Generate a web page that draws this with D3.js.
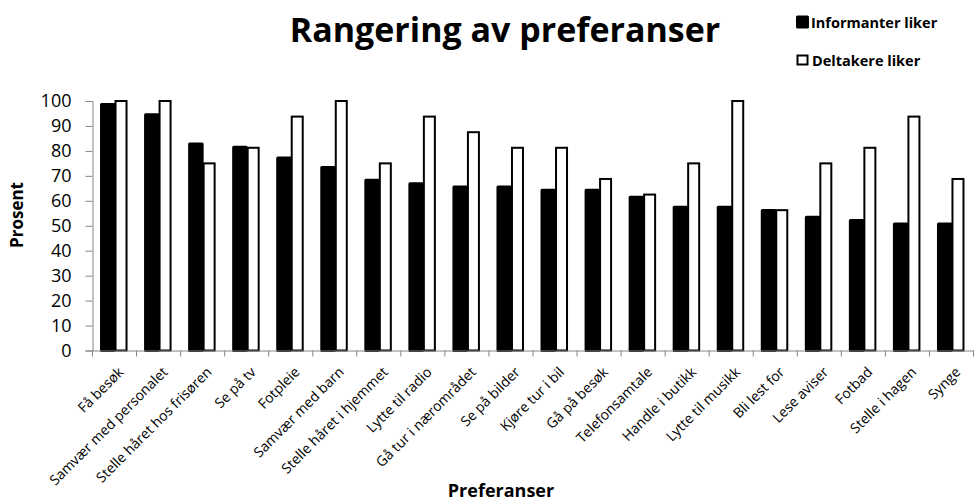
<!DOCTYPE html>
<html><head><meta charset="utf-8">
<script src="https://cdn.jsdelivr.net/npm/d3@7"></script>
<style>body{margin:0;background:#fff}svg{display:block}text{font-family:"Open Sans",Lato,sans-serif}</style>
</head><body><svg id="c" width="975" height="501"></svg>
<script>
const categories = ["Få besøk","Samvær med personalet","Stelle håret hos frisøren","Se på tv","Fotpleie","Samvær med barn","Stelle håret i hjemmet","Lytte til radio","Gå tur i nærområdet","Se på bilder","Kjøre tur i bil","Gå på besøk","Telefonsamtale","Handle i butikk","Lytte til musikk","Bli lest for","Lese aviser","Fotbad","Stelle i hagen","Synge"];
const informanter = [98.6,94.5,82.8,81.5,77.2,73.3,68.2,66.8,65.5,65.5,64.2,64.2,61.4,57.4,57.4,56.1,53.4,52.1,50.7,50.7];
const deltakere = [100,100,75,81.25,93.75,100,75,93.75,87.5,81.25,81.25,68.75,62.5,75,100,56.25,75,81.25,93.75,68.75];
const yTicks = [0,10,20,30,40,50,60,70,80,90,100];
const seriesNames = ["Informanter liker","Deltakere liker"];

const svg = d3.select("#c");
const x = d3.scaleBand().domain(categories).range([92.5, 973.5]).padding(0);
const y = d3.scaleLinear().domain([0,100]).range([350.5, 101]);
const inner = d3.scaleBand().domain([0,1]).range([-13, 13]).padding(0);

// bars
const g = svg.append("g");
categories.forEach((c,i)=>{
  const cx = x(c) + x.bandwidth()/2;
  g.append("rect").attr("x", cx+inner(0)).attr("width", inner.bandwidth()-0.5)
    .attr("y", y(informanter[i])).attr("height", y(0)-y(informanter[i]))
    .attr("fill","#000").attr("stroke","#000").attr("stroke-width",3).attr("stroke-linejoin","round");
  g.append("rect").attr("x", cx+inner(1)+1).attr("width", inner.bandwidth()-2)
    .attr("y", y(deltakere[i])).attr("height", y(0)-y(deltakere[i]))
    .attr("fill","#fff").attr("stroke","#000").attr("stroke-width",2);
});

// y axis
const ya = svg.append("g").attr("transform","translate(92.5,0)")
  .call(d3.axisLeft(y).tickValues(yTicks).tickSize(7).tickPadding(14));
ya.select(".domain").attr("stroke","#868686");
ya.selectAll(".tick line").attr("stroke","#868686");
ya.selectAll("text").attr("font-size",18).attr("fill","#000").style("font-family","'Open Sans'");

// x axis
const xa = svg.append("g").attr("transform","translate(0,350.5)")
  .call(d3.axisBottom(x).tickSize(0).tickSizeOuter(0).tickFormat(""));
xa.select(".domain").attr("stroke","#868686");
xa.selectAll(".tick").remove();
const bounds = categories.map(c=>x(c)).concat([x.range()[1]]);
xa.selectAll(".sep").data(bounds).enter().append("line")
  .attr("x1",d=>d).attr("x2",d=>d).attr("y1",0).attr("y2",6).attr("stroke","#868686");

// x labels
svg.append("g").selectAll("text").data(categories).enter().append("text")
  .attr("transform", d=>`translate(${x(d)+x.bandwidth()/2+3},366) rotate(-45)`)
  .attr("text-anchor","end").attr("dy","0.7em").attr("font-size",14).text(d=>d);

// title
svg.append("text").attr("x",505).attr("y",42).attr("text-anchor","middle")
  .attr("font-size",34).attr("font-weight","bold").text("Rangering av preferanser");

// axis titles
svg.append("text").attr("transform","translate(23,215) rotate(-90)").attr("text-anchor","middle")
  .attr("font-size",17).attr("font-weight","bold").text("Prosent");
svg.append("text").attr("x",501).attr("y",497).attr("text-anchor","middle")
  .attr("font-size",18).attr("font-weight","bold").text("Preferanser");

// legend
const lg = svg.append("g");
lg.append("rect").attr("x",797.5).attr("y",17).attr("width",10).attr("height",10)
  .attr("fill","#000").attr("stroke","#000").attr("stroke-width",3).attr("stroke-linejoin","round");
lg.append("rect").attr("x",797.5).attr("y",55.5).attr("width",10).attr("height",9)
  .attr("fill","#fff").attr("stroke","#000").attr("stroke-width",2);
lg.append("text").attr("x",811).attr("y",28).attr("font-size",14.5).attr("font-weight","bold").text(seriesNames[0]);
lg.append("text").attr("x",812).attr("y",66).attr("font-size",14.5).attr("font-weight","bold").text(seriesNames[1]);
</script></body></html>
